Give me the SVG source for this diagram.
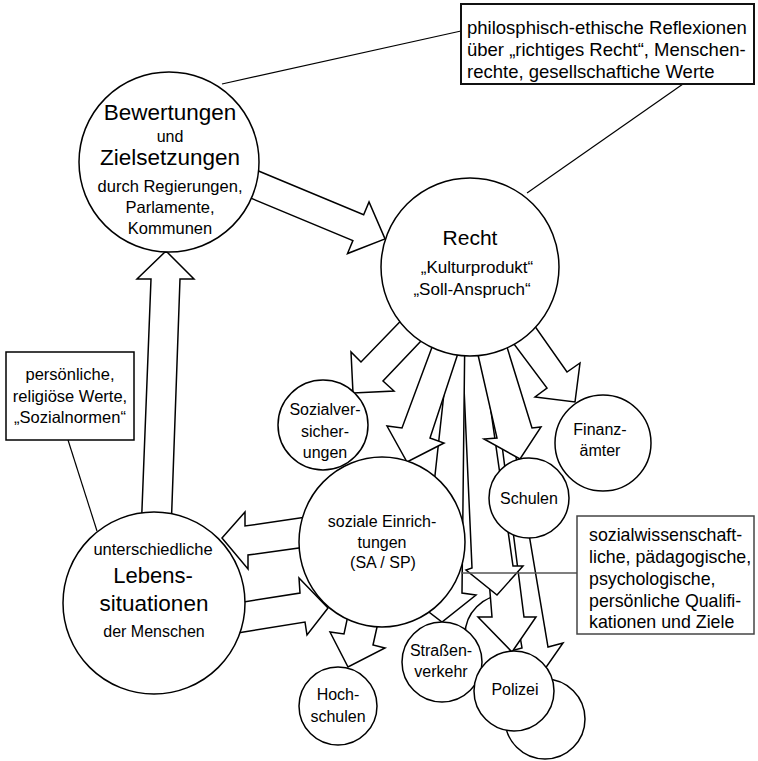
<svg xmlns="http://www.w3.org/2000/svg" width="758" height="761" viewBox="0 0 758 761">
<style>
.n{fill:#fff;stroke:#000;stroke-width:1.5}
.b{fill:#fff;stroke:#111;stroke-width:2}
.a{fill:#fff;stroke:#000;stroke-width:1.5;stroke-linejoin:miter}
.l{fill:none;stroke:#000;stroke-width:1.2}
text{font-family:"Liberation Sans",Arial,sans-serif;fill:#000}
.m{text-anchor:middle}
.s16{font-size:16px}
.s165{font-size:16.5px}
.s17{font-size:17px}
.s18{font-size:18.5px}
.s175{font-size:17.8px}
.big{font-size:22.5px}
</style>
<rect width="758" height="761" fill="#fff"/>

<g id="hidden-circle-1"><circle class="n" cx="505" cy="635" r="40"/></g>
<g id="hidden-circle-2"><circle class="n" cx="545" cy="719" r="40"/></g>

<g id="connectors">
  <polygon class="a" points="467,320 522,648 507,652 540,676 563,643 548,647 493,320"/>
  <polygon class="a" points="468,320 492,617 478,617 512,652 536,617 524,617 486,320"/>
  <polygon class="a" points="461,320 472,568 466,570 497,595 523,566 513,566 478,320"/>
  <polygon class="a" points="452,320 422,594 408,596 442,622 476,595 462,593 465,320"/>
  <polygon class="a" points="360,560 344,634 330,632 348,667 385,648 373,645 392,560"/>
  <polygon class="a" points="320,515 245,526 245,512 222,538 248,569 248,555 320,545"/>
  <polygon class="a" points="200,609 300,593 299,578 328,608 307,635 305,622 200,639"/>
  <polygon class="a" points="0,-14 171,-14 171,-28 200,0 171,28 171,14 0,14" transform="translate(200.4,162) rotate(22.6)"/>
  <polygon class="a" points="140,560 151,279 137,279 166,251 194,279 180,279 170,560"/>
  <polygon class="a" points="420,301 361,362 351,352 353,393 394,391 383,381 440,321"/>
  <polygon class="a" points="441,323 402,428 387,426 407,462 444,443 430,438 468,323"/>
  <polygon class="a" points="471,324 497,438 484,439 520,459 541,427 532,428 498,318"/>
  <polygon class="a" points="496,320 547,388 535,397 575,402 580,363 567,372 520,305"/>
  <line class="l" x1="222" y1="84" x2="461" y2="31"/>
  <line class="l" x1="527" y1="193" x2="683" y2="84"/>
  <line class="l" x1="68" y1="440" x2="97" y2="531"/>
  <line x1="461" y1="573" x2="577" y2="573" stroke="#555" stroke-width="1.5"/>
</g>

<g id="bewertungen">
  <circle class="n" cx="169" cy="162" r="90"/>
  <text class="m big" x="170" y="120">Bewertungen</text>
  <text class="m s16" x="170" y="142">und</text>
  <text class="m big" x="170" y="165">Zielsetzungen</text>
  <text class="m s165" x="170" y="192">durch Regierungen,</text>
  <text class="m s165" x="170" y="213">Parlamente,</text>
  <text class="m s165" x="170" y="234">Kommunen</text>
</g>

<g id="recht">
  <circle class="n" cx="470" cy="267" r="89"/>
  <text class="m" x="470" y="245" font-size="21">Recht</text>
  <text class="m s17" x="477" y="273">„Kulturprodukt“</text>
  <text class="m s17" x="472" y="295">„Soll-Anspruch“</text>
</g>

<g id="sozialversicherungen">
  <circle class="n" cx="323" cy="425" r="45"/>
  <text class="m s16" x="325" y="415">Sozialver-</text>
  <text class="m s16" x="325" y="437">sicher-</text>
  <text class="m s16" x="325" y="458">ungen</text>
</g>

<g id="finanzaemter">
  <circle class="n" cx="603" cy="443" r="48"/>
  <text class="m s16" x="600" y="435">Finanz-</text>
  <text class="m s16" x="600" y="456">ämter</text>
</g>

<g id="schulen">
  <circle class="n" cx="529" cy="498" r="40"/>
  <text class="m s16" x="529" y="504">Schulen</text>
</g>

<g id="soziale-einrichtungen">
  <ellipse class="n" cx="382" cy="542" rx="83" ry="85"/>
  <text class="m s16" x="382" y="527">soziale Einrich-</text>
  <text class="m s16" x="382" y="548">tungen</text>
  <text class="m s16" x="383" y="568">(SA / SP)</text>
</g>

<g id="lebenssituationen">
  <circle class="n" cx="154" cy="603" r="91"/>
  <text class="m s165" x="153" y="555">unterschiedliche</text>
  <text class="m" x="153" y="583" font-size="22">Lebens-</text>
  <text class="m big" x="154" y="611">situationen</text>
  <text class="m s16" x="154" y="637">der Menschen</text>
</g>

<g id="hochschulen">
  <circle class="n" cx="338" cy="706" r="39"/>
  <text class="m s16" x="338" y="700">Hoch-</text>
  <text class="m s16" x="338" y="722">schulen</text>
</g>

<g id="strassenverkehr">
  <circle class="n" cx="442" cy="662" r="40"/>
  <text class="m s16" x="441" y="656">Straßen-</text>
  <text class="m s16" x="441" y="677">verkehr</text>
</g>

<g id="polizei">
  <circle class="n" cx="514" cy="691" r="40"/>
  <text class="m s16" x="515" y="695">Polizei</text>
</g>

<g id="box-philosophie">
  <rect class="b" x="461" y="4" width="293" height="80"/>
  <text class="s18" x="467" y="34">philosphisch-ethische Reflexionen</text>
  <text class="s18" x="467" y="56">über „richtiges Recht“, Menschen-</text>
  <text class="s18" x="467" y="78">rechte, gesellschaftiche Werte</text>
</g>

<g id="box-werte">
  <rect class="n" x="6" y="352" width="128" height="88"/>
  <text class="m s165" x="70" y="380">persönliche,</text>
  <text class="m s165" x="70" y="402">religiöse Werte,</text>
  <text class="m s165" x="70" y="423">„Sozialnormen“</text>
</g>

<g id="box-qualifikationen">
  <rect x="577" y="516" width="177" height="118" fill="#fff" stroke="#444" stroke-width="1.5"/>
  <text class="s175" x="589" y="541">sozialwissenschaft-</text>
  <text class="s175" x="589" y="563">liche, pädagogische,</text>
  <text class="s175" x="589" y="585">psychologische,</text>
  <text class="s175" x="589" y="607">persönliche Qualifi-</text>
  <text class="s175" x="589" y="628">kationen und Ziele</text>
</g>
</svg>
